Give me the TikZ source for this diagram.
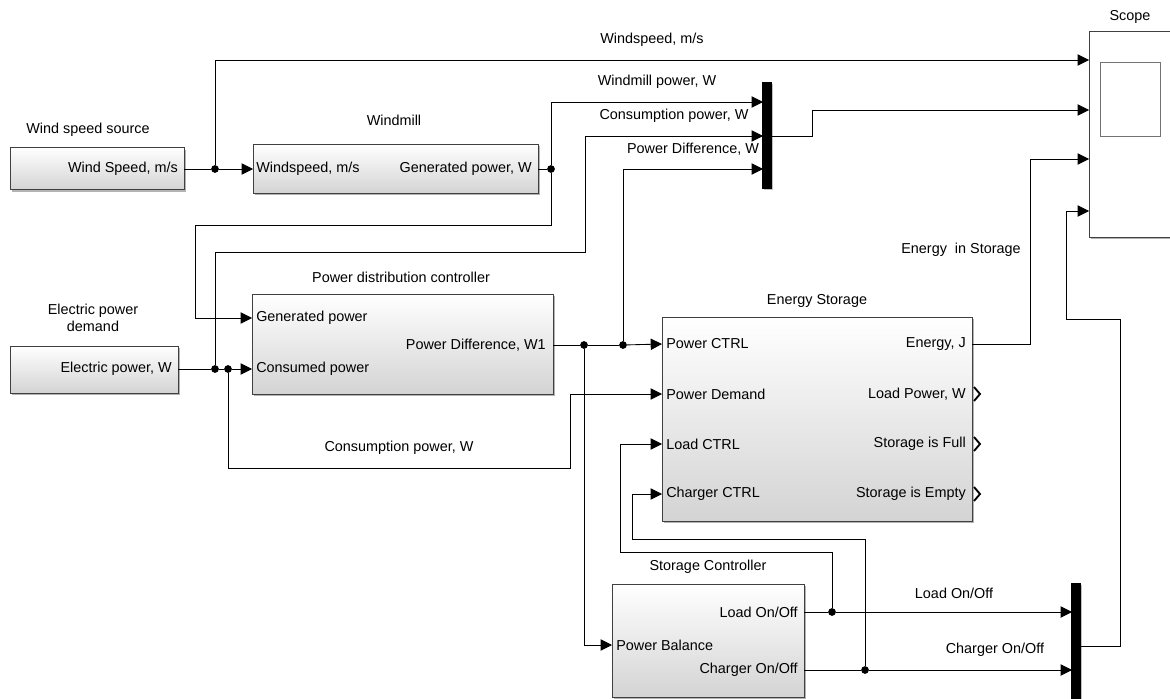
\documentclass[tikz,border=0pt]{standalone}
\usepackage{fontspec}
\setmainfont{Liberation Sans}
\usetikzlibrary{arrows.meta,positioning,shadows}

\begin{document}
\begin{tikzpicture}[x=0.75pt,y=-0.75pt,font=\fontsize{10.8}{12.5}\selectfont,
  >={Triangle[length=8.5pt,width=8.5pt]},
  blk/.style={draw=black!75,line width=0.75pt,top color=white,bottom color=black!17,
    drop shadow={shadow xshift=1.5pt,shadow yshift=-1.5pt,fill=black!50,opacity=.6},inner sep=0pt},
  muxbar/.style={fill=black,draw=black,inner sep=0pt,minimum width=7pt,
    drop shadow={shadow xshift=1.2pt,shadow yshift=-1.2pt,fill=black!50,opacity=.5}},
  wire/.style={line width=0.65pt},
  sig/.style={->,line width=0.65pt},
  inlbl/.style={anchor=west,inner sep=0pt},
  outlbl/.style={anchor=east,inner sep=0pt},
  lbl/.style={inner sep=0pt},
  dot/.style={circle,fill=black,inner sep=0pt,minimum size=5.8pt}]
  \useasboundingbox (0,0) rectangle (1170,699);
  \clip (0,0) rectangle (1170,699);

  % blocks
  \node[blk,minimum width=130.5pt,minimum height=31.5pt] (src) at (97,168.5) {};
  \node[blk,minimum width=213.75pt,minimum height=36.75pt] (wm) at (395.5,168.5) {};
  \node[blk,minimum width=126pt,minimum height=35.25pt] (epd) at (94,369.5) {};
  \node[blk,minimum width=225.75pt,minimum height=75pt] (pdc) at (402.5,344) {};
  \node[blk,minimum width=232.5pt,minimum height=153pt] (es) at (817,419) {};
  \node[blk,minimum width=144pt,minimum height=84.75pt] (sc) at (708,640.5) {};
  \node[draw=black!75,line width=0.75pt,fill=white,inner sep=0pt,minimum width=72pt,minimum height=153.75pt,
    drop shadow={shadow xshift=1.5pt,shadow yshift=-1.5pt,fill=black!50,opacity=.6}] (scope) at (1137,134.5) {};
  \node[draw=black!55,line width=0.75pt,inner sep=0pt,minimum width=45pt,minimum height=54.75pt] (screen) at (1130,99.5) {};
  \node[muxbar,minimum height=79.5pt] (mux1) at (767,135) {};
  \node[muxbar,minimum height=93pt] (mux2) at (1076,645) {};

  % titles
  \node[lbl] (src-t) at (88,130) {Wind speed source};
  \node[lbl] (wm-t) at (394,120) {Windmill};
  \node[lbl,align=center] (epd-t) at (93,318) {Electric power\\demand};
  \node[lbl] (pdc-t) at (401,277) {Power distribution controller};
  \node[lbl] (es-t) at (817,301) {Energy Storage};
  \node[lbl] (sc-t) at (708,567) {Storage Controller};
  \node[lbl] (scope-t) at (1130,17) {Scope};

  % port texts
  \node[outlbl] (src-o) at (178,169) {Wind Speed, m/s};
  \node[inlbl] (wm-i) at (256,169) {Windspeed, m/s};
  \node[outlbl] (wm-o) at (532,169) {Generated power, W};
  \node[outlbl] (epd-o) at (172,369) {Electric power, W};
  \node[inlbl] (pdc-i1) at (256,318) {Generated power};
  \node[inlbl] (pdc-i2) at (256,369) {Consumed power};
  \node[outlbl] (pdc-o) at (546,345) {Power Difference, W1};
  \node[inlbl] (es-i1) at (666,344) {Power CTRL};
  \node[inlbl] (es-i2) at (666,394) {Power Demand};
  \node[inlbl] (es-i3) at (666,444) {Load CTRL};
  \node[inlbl] (es-i4) at (666,494) {Charger CTRL};
  \node[outlbl] (es-o1) at (966,344) {Energy, J};
  \node[outlbl] (es-o2) at (966,394) {Load Power, W};
  \node[outlbl] (es-o3) at (966,444) {Storage is Full};
  \node[outlbl] (es-o4) at (966,494) {Storage is Empty};
  \node[outlbl] (sc-o1) at (798,612) {Load On/Off};
  \node[inlbl] (sc-i) at (616,645) {Power Balance};
  \node[outlbl] (sc-o2) at (798,670) {Charger On/Off};

  % ports and junctions
  \coordinate (src-out) at (184,169);
  \coordinate (wm-in) at (253,169);
  \coordinate (wm-out) at (538,169);
  \coordinate (epd-out) at (178,369);
  \coordinate (pdc-gen) at (252,318);
  \coordinate (pdc-con) at (252,369);
  \coordinate (pdc-out) at (553,345);
  \coordinate (es-ctrl) at (662,344);
  \coordinate (es-dem) at (662,394);
  \coordinate (es-load) at (662,444);
  \coordinate (es-chg) at (662,494);
  \coordinate (es-out) at (972,344);
  \coordinate (sc-in) at (612,645);
  \coordinate (sc-load) at (804,612);
  \coordinate (sc-chg) at (804,670);
  \coordinate (mux1-a) at (763,102);
  \coordinate (mux1-b) at (763,136);
  \coordinate (mux1-c) at (763,169);
  \coordinate (mux1-out) at (771,136);
  \coordinate (mux2-a) at (1072,612);
  \coordinate (mux2-b) at (1072,670);
  \coordinate (mux2-out) at (1080,646);
  \coordinate (scope-a) at (1089,60);
  \coordinate (scope-b) at (1089,110);
  \coordinate (scope-c) at (1089,159);
  \coordinate (scope-d) at (1089,211);
  \node[dot] (j1) at (215,169) {};
  \node[dot] (j2) at (551,169) {};
  \node[dot] (j3) at (215,369) {};
  \node[dot] (j4) at (228,369) {};
  \node[dot] (j5) at (584,345) {};
  \node[dot] (j6) at (623,345) {};
  \node[dot] (j7) at (832,612) {};
  \node[dot] (j8) at (865,670) {};

  % signals
  \draw[wire] (src-out) -- (j1);
  \draw[sig] (j1) -- (wm-in);
  \draw[sig] (j1) |- (scope-a) node[lbl,pos=0.75,above=10pt] (l1) {Windspeed, m/s};
  \draw[wire] (wm-out) -- (j2);
  \draw[sig] (j2) |- (mux1-a) node[lbl,pos=0.75,above=10pt] (l2) {Windmill power, W};
  \draw[sig] (j2) -- (551,225) -| (195,318) -- (pdc-gen);
  \draw[wire] (epd-out) -- (j3) -- (j4);
  \draw[sig] (j4) -- (pdc-con);
  \draw[sig] (j3) -- (215,252) -| (585,136) -- (mux1-b) node[lbl,midway,above=10pt] (l3) {Consumption power, W};
  \draw[wire] (pdc-out) -- (j5) -- (j6);
  \draw[sig] (j6) -- (es-ctrl);
  \draw[sig] (j6) |- (mux1-c) node[lbl,pos=0.75,above=10pt] (l4) {Power Difference, W};
  \draw[sig] (mux1-out) -- (812,136) |- (scope-b);
  \draw[sig] (j4) |- (570,468) node[lbl,pos=0.75,above=10pt] (l5) {Consumption power, W} |- (es-dem);
  \draw[sig] (j5) |- (sc-in);
  \draw[sig] (es-out) -| (1030,159) -- (scope-c);
  \node[lbl] (l6) at (961,250) {Energy\ \ in Storage};
  \draw[wire] (sc-load) -- (j7);
  \draw[sig] (j7) -- (mux2-a) node[lbl,midway,above=10pt] (l7) {Load On/Off};
  \draw[sig] (j7) -- (832,552) -| (620,444) -- (es-load);
  \draw[wire] (sc-chg) -- (j8);
  \draw[sig] (j8) -- (mux2-b) node[lbl,pos=0.62,above=10pt] (l8) {Charger On/Off};
  \draw[sig] (j8) -- (865,539) -| (632,494) -- (es-chg);
  \draw[sig] (mux2-out) -- (1120,646) -- (1120,319) -| (1066,211) -- (scope-d);

  % output port marks
  \foreach \py in {394,444,494}
    \draw[line width=1.4pt] (974,\py-7) -- (980,\py) -- (974,\py+7);
\end{tikzpicture}
\end{document}
